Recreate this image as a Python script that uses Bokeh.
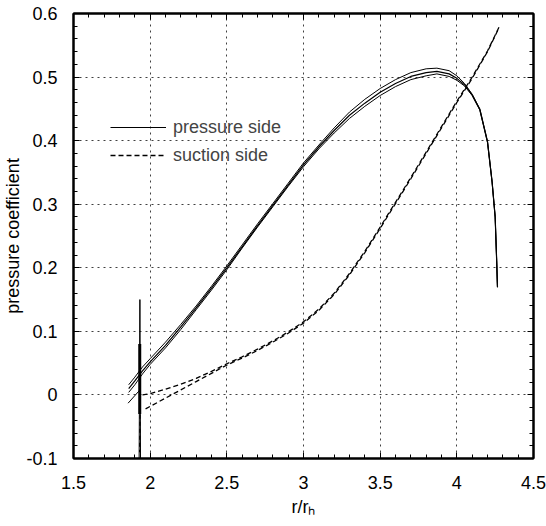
from bokeh.plotting import figure
from bokeh.models import (Range1d, FixedTicker, LinearAxis, NumeralTickFormatter,
                          CustomJSTickFormatter, Legend, LegendItem)
from bokeh.embed import file_html
from bokeh.resources import INLINE

# ---- data ----
x_ticks = [1.5, 2.0, 2.5, 3.0, 3.5, 4.0, 4.5]
y_ticks = [-0.1, 0.0, 0.1, 0.2, 0.3, 0.4, 0.5, 0.6]
x_minor = [round(1.5 + 0.1 * i, 2) for i in range(31)]
y_minor = [round(-0.1 + 0.02 * i, 3) for i in range(36)]

pressure_x = [1.86, 1.90, 1.95, 2.0, 2.1, 2.2, 2.3, 2.4, 2.5, 2.6, 2.7, 2.8, 2.9, 3.0, 3.1,
              3.2, 3.3, 3.4, 3.5, 3.6, 3.7, 3.8, 3.87, 3.95, 4.0, 4.05, 4.1, 4.15, 4.2,
              4.23, 4.25, 4.26, 4.265]
pressure_upper = [0.016, 0.028, 0.044, 0.057, 0.083, 0.111, 0.140, 0.171, 0.203, 0.236, 0.269,
                  0.301, 0.333, 0.365, 0.393, 0.420, 0.445, 0.465, 0.482, 0.496, 0.507, 0.513,
                  0.514, 0.510, 0.502, 0.490, 0.473, 0.450, 0.399, 0.336, 0.281, 0.211, 0.171]
pressure_mid = [0.010, 0.022, 0.038, 0.052, 0.078, 0.107, 0.137, 0.168, 0.200, 0.233, 0.266,
                0.298, 0.330, 0.362, 0.390, 0.416, 0.440, 0.459, 0.476, 0.490, 0.501, 0.507,
                0.509, 0.505, 0.498, 0.488, 0.472, 0.449, 0.398, 0.335, 0.280, 0.210, 0.170]
pressure_lower = [0.004, 0.016, 0.033, 0.048, 0.074, 0.103, 0.134, 0.165, 0.197, 0.231, 0.264,
                  0.296, 0.328, 0.359, 0.387, 0.412, 0.435, 0.454, 0.471, 0.485, 0.496, 0.502,
                  0.505, 0.501, 0.495, 0.486, 0.471, 0.448, 0.397, 0.334, 0.279, 0.209, 0.169]
pressure_lead_x = [1.856, 1.93]
pressure_lead_y = [-0.013, 0.007]
spike_x = [1.928, 1.933, 1.937]
spike_y = [-0.1, 0.15, -0.1]
spike_core_x = [1.932, 1.932]
spike_core_y = [-0.03, 0.08]

suction_x1 = [1.97, 2.0, 2.1, 2.2, 2.3, 2.4, 2.5, 2.6, 2.7, 2.8, 2.9, 3.0, 3.1, 3.2, 3.3,
              3.4, 3.5, 3.6, 3.7, 3.8, 3.9, 4.0, 4.1, 4.2, 4.276]
suction_y1 = [-0.022, -0.018, -0.005, 0.008, 0.021, 0.034, 0.047, 0.058, 0.070, 0.083, 0.097,
              0.113, 0.133, 0.158, 0.189, 0.224, 0.262, 0.301, 0.340, 0.380, 0.420, 0.460,
              0.498, 0.540, 0.578]
suction_x2 = [1.95, 2.0, 2.1, 2.2, 2.3, 2.4, 2.5, 2.6, 2.7, 2.8, 2.9, 3.0, 3.1, 3.2, 3.3,
              3.4, 3.5, 3.6, 3.7, 3.8, 3.9, 4.0, 4.1, 4.2, 4.276]
suction_y2 = [0.000, 0.002, 0.009, 0.017, 0.026, 0.037, 0.049, 0.060, 0.072, 0.085, 0.099,
              0.115, 0.135, 0.160, 0.191, 0.226, 0.264, 0.303, 0.342, 0.382, 0.422, 0.462,
              0.500, 0.541, 0.579]
suction_tail_x = [1.935, 1.931]
suction_tail_y = [-0.02, -0.09]

x_label = "r/r\u2095"
y_label = "pressure coefficient"
legend_labels = ["pressure side", "suction side"]

FONT = "Liberation Sans"

p = figure(width=546, height=526, x_range=Range1d(1.5, 4.5), y_range=Range1d(-0.1, 0.6),
           output_backend="svg", toolbar_location=None,
           min_border_left=70, min_border_right=13, min_border_top=13, min_border_bottom=68)
p.background_fill_color = "white"
p.border_fill_color = "white"
p.outline_line_color = "black"
p.outline_line_width = 2

xt = FixedTicker(ticks=x_ticks, minor_ticks=x_minor)
yt = FixedTicker(ticks=y_ticks, minor_ticks=y_minor)


def style_axis(ax, ticker, show_labels):
    ax.ticker = ticker
    ax.axis_line_color = "black"
    ax.axis_line_width = 2
    ax.major_tick_in = 6
    ax.major_tick_out = 0
    ax.minor_tick_in = 4
    ax.minor_tick_out = 0
    ax.major_tick_line_color = "black"
    ax.minor_tick_line_color = "black"
    if show_labels:
        ax.formatter = NumeralTickFormatter(format="0.[0]")
        ax.major_label_text_font = FONT
        ax.major_label_text_font_size = "18px"
        ax.major_label_text_color = "black"
        ax.axis_label_text_font = FONT
        ax.axis_label_text_font_size = "18px"
        ax.axis_label_text_font_style = "normal"
        ax.axis_label_text_color = "black"
    else:
        ax.formatter = CustomJSTickFormatter(code="return ''")
        ax.major_label_text_font_size = "1px"
        ax.major_label_standoff = 0


style_axis(p.xaxis[0], xt, True)
style_axis(p.yaxis[0], yt, True)
p.xaxis[0].major_label_standoff = 17
p.yaxis[0].major_label_standoff = 16
p.xaxis[0].axis_label = x_label
p.xaxis[0].axis_label_standoff = 5
p.yaxis[0].axis_label = y_label
p.yaxis[0].axis_label_standoff = 0

top = LinearAxis()
right = LinearAxis()
style_axis(top, xt, False)
style_axis(right, yt, False)
p.add_layout(top, "above")
p.add_layout(right, "right")

p.xgrid.ticker = xt
p.ygrid.ticker = yt
p.grid.grid_line_color = "black"
p.grid.grid_line_alpha = 0.75
p.grid.grid_line_dash = "2 4"
p.grid.grid_line_width = 1

# pressure side
p.line(pressure_x, pressure_upper, line_color="black", line_width=1)
r_pm = p.line(pressure_x, pressure_mid, line_color="black", line_width=1.2)
p.line(pressure_x, pressure_lower, line_color="black", line_width=1)
p.line(pressure_lead_x, pressure_lead_y, line_color="black", line_width=1)
p.line(spike_x, spike_y, line_color="black", line_width=1)
p.line(spike_core_x, spike_core_y, line_color="black", line_width=3)

# suction side
r_s1 = p.line(suction_x1, suction_y1, line_color="black", line_width=1.3, line_dash="5 3")
p.line(suction_x2, suction_y2, line_color="black", line_width=1.3, line_dash="5 3")
p.line(suction_tail_x, suction_tail_y, line_color="black", line_width=1.2, line_dash="4 3")

legend = Legend(items=[LegendItem(label=legend_labels[0], renderers=[r_pm]),
                       LegendItem(label=legend_labels[1], renderers=[r_s1])],
                location=(37, 292), padding=0, margin=0, spacing=6,
                glyph_width=56, glyph_height=22, label_height=22, label_standoff=7,
                label_text_font=FONT, label_text_font_size="18px",
                background_fill_alpha=0, border_line_alpha=0)
p.add_layout(legend, "center")

open("out.html", "w").write(file_html(p, INLINE))
